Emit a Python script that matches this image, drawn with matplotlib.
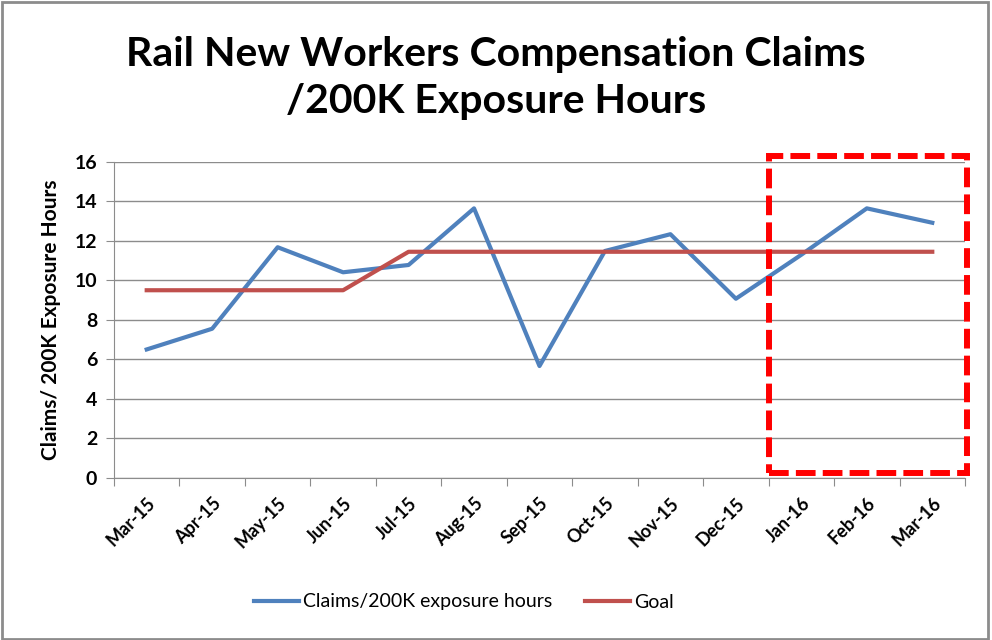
import numpy as np
import matplotlib
matplotlib.use("Agg")
import matplotlib.pyplot as plt
from matplotlib.patches import Rectangle

# data
months = ['Mar-15', 'Apr-15', 'May-15', 'Jun-15', 'Jul-15', 'Aug-15', 'Sep-15',
          'Oct-15', 'Nov-15', 'Dec-15', 'Jan-16', 'Feb-16', 'Mar-16']
claims = [6.5, 7.55, 11.68, 10.41, 10.78, 13.65, 5.66, 11.49, 12.34, 9.07, 11.3, 13.65, 12.92]
goal = [9.5, 9.5, 9.5, 9.5, 11.45, 11.45, 11.45, 11.45, 11.45, 11.45, 11.45, 11.45, 11.45]
yticks = [0, 2, 4, 6, 8, 10, 12, 14, 16]

plt.rcParams['font.family'] = ['Lato', 'DejaVu Sans']

fig = plt.figure(figsize=(9.92, 6.4), dpi=100)
ax = fig.add_axes([0.1149, 0.2536, 0.8579, 0.4933])

x = np.arange(len(months))
ax.plot(x, claims, color='#4F81BD', linewidth=3, label='Claims/200K exposure hours', zorder=3)
ax.plot(x, goal, color='#C0504D', linewidth=3, label='Goal', zorder=3)

ax.set_xlim(-0.5, len(months) - 0.5)
ax.set_ylim(0, 16)
ax.set_yticks(yticks)
ax.set_yticklabels([str(v) for v in yticks], fontsize=14, fontweight='bold')
ax.grid(axis='y', color='#8C8C8C', linewidth=1)
ax.set_axisbelow(True)

# ticks on category boundaries, labels at category centres
ax.set_xticks(np.arange(-0.5, len(months), 1))
ax.set_xticklabels([])
ax.set_xticks(x, minor=True)
ax.set_xticklabels(months, minor=True, rotation=45, ha='right', va='top',
                   rotation_mode='anchor', fontsize=13, fontweight='bold')
ax.tick_params(axis='x', which='minor', length=0, pad=12)
ax.tick_params(axis='x', which='major', length=6, color='#8C8C8C')
ax.tick_params(axis='y', length=6, color='#8C8C8C', pad=6)

for s in ['top', 'right']:
    ax.spines[s].set_visible(False)
for s in ['left', 'bottom']:
    ax.spines[s].set_color('#8C8C8C')

ax.set_ylabel('Claims/ 200K Exposure Hours', fontsize=15, fontweight='bold', labelpad=10)

# highlight box for 2016
box = Rectangle((9.5, 0.25), 3.03, 16.07, fill=False, edgecolor='#FF0000',
                linewidth=4.3, linestyle=(0, (3.3, 1.2)), clip_on=False, zorder=5)
ax.add_patch(box)

fig.text(0.5, 1 - 36 / 640, 'Rail New Workers Compensation Claims\n/200K Exposure Hours',
         ha='center', va='top', fontsize=29.5, fontweight='bold', linespacing=1.33)

fig.legend(loc='center', bbox_to_anchor=(464 / 992, 1 - 602 / 640), ncol=2,
           frameon=False, fontsize=14, handlelength=2.3, handletextpad=0.2,
           columnspacing=1.7)

fig.add_artist(Rectangle((0.002, 0.002), 0.994, 0.995, transform=fig.transFigure,
                         fill=False, edgecolor='#8C8C8C', linewidth=2))

fig.savefig('out.png', dpi=100)
